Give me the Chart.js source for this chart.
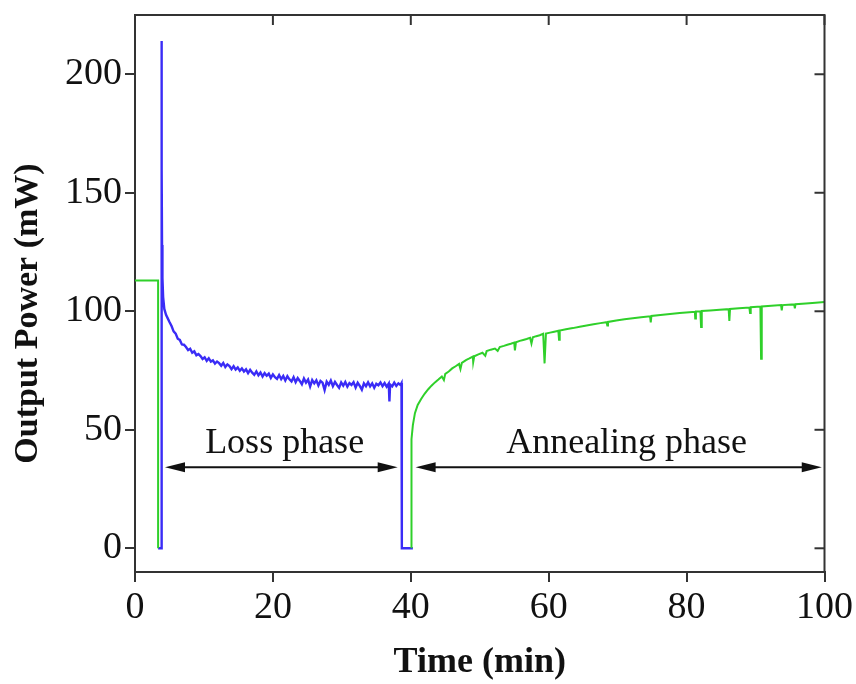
<!DOCTYPE html>
<html>
<head>
<meta charset="utf-8">
<script src="https://cdn.jsdelivr.net/npm/chart.js@4/dist/chart.umd.min.js"></script>
<style>
  html, body { margin: 0; padding: 0; background: #fff; }
  #wrap { width: 856px; height: 684px; }
</style>
</head>
<body>
<div id="wrap"><canvas id="chart" width="856" height="684"></canvas></div>
<script>
// === DATA (time in min, power in mW) ===

// green trace before the loss phase
const greenBefore = [[0, 113], [3.35, 113], [3.35, 0]];

// blue trace: loss phase
const blueLoss = [
    [3.35, 0], [3.85, 0], [3.85, 214], [3.88, 160], [3.92, 128], [3.98, 114], [4.08, 106],
    [4.25, 101], [4.5, 98.5], [4.75, 97], [5.0, 95.5], [5.3, 93.8], [5.6, 91.5], [5.9, 90.6],
    [6.2, 88.4], [6.5, 87.9], [6.8, 86.0], [7.1, 85.9], [7.4, 84.9], [7.7, 83.6], [8.0, 84.2],
    [8.3, 82.5], [8.6, 83.1], [8.9, 81.4], [9.2, 82.0], [9.5, 81.1], [9.8, 79.9], [10.1, 80.6],
    [10.4, 79.1], [10.7, 80.2], [11.0, 78.8], [11.3, 79.3], [11.6, 77.9], [11.9, 78.8], [12.2, 78.1],
    [12.5, 77.0], [12.8, 78.2], [13.1, 76.5], [13.4, 77.6], [13.7, 76.9], [14.0, 75.6], [14.3, 76.8],
    [14.6, 75.4], [14.9, 76.3], [15.2, 74.9], [15.5, 75.9], [15.8, 74.6], [16.1, 75.5], [16.4, 73.9],
    [16.7, 75.3], [17.0, 74.1], [17.3, 73.2], [17.6, 74.6], [17.9, 73.0], [18.2, 74.2], [18.5, 72.5],
    [18.8, 73.9], [19.1, 72.8], [19.4, 73.7], [19.7, 71.9], [20.0, 73.4], [20.3, 72.2], [20.6, 71.5],
    [20.9, 73.1], [21.2, 71.4], [21.5, 72.7], [21.8, 70.8], [22.1, 72.6], [22.4, 71.3], [22.7, 70.4],
    [23.0, 72.2], [23.3, 70.1], [23.6, 71.8], [23.9, 70.6], [24.2, 69.2], [24.5, 71.6], [24.8, 69.9],
    [25.1, 71.2], [25.4, 68.3], [25.7, 71.0], [26.0, 69.6], [26.3, 70.9], [26.6, 68.7], [26.9, 70.6],
    [27.2, 69.9], [27.5, 66.8], [27.8, 70.3], [28.1, 69.0], [28.4, 70.8], [28.7, 68.4], [29.0, 70.2],
    [29.3, 68.9], [29.6, 67.7], [29.9, 70.0], [30.2, 68.6], [30.5, 70.2], [30.8, 68.2], [31.1, 69.7],
    [31.4, 68.9], [31.7, 70.1], [32.0, 67.8], [32.3, 69.8], [32.6, 68.5], [32.9, 66.9], [33.2, 69.6],
    [33.5, 68.4], [33.8, 70.0], [34.1, 68.3], [34.4, 69.6], [34.7, 67.7], [35.0, 69.4], [35.3, 68.8],
    [35.6, 70.0], [35.9, 68.4], [36.2, 69.7], [36.5, 68.2], [36.8, 69.5], [36.9, 62.0], [37.0, 69.1],
    [37.3, 68.3], [37.6, 69.9], [37.9, 68.5], [38.2, 69.6], [38.5, 68.9], [38.65, 69.7], [38.7, 0],
    [40.3, 0]
];

// green trace: annealing phase (recovery with dropouts)
const greenAnneal = [
    [40.1, 0], [40.1, 46], [40.3, 52], [40.6, 57], [41.0, 60.5], [41.5, 63], [42.0, 65.2],
    [42.5, 67], [43.0, 68.6], [43.5, 70], [44.0, 71.2], [44.5, 72.5], [44.8, 71.0], [45.0, 73.6],
    [45.5, 74.6], [46.0, 75.9], [46.5, 76.8], [47.0, 77.8], [47.2, 75.6], [47.4, 78.2], [48.0, 79.4],
    [48.5, 80.1], [49.0, 80.9], [49.05, 78.5], [49.2, 81.0], [49.8, 81.8], [50.4, 82.5], [50.8, 81.2],
    [51.0, 83.2], [51.6, 83.8], [52.2, 84.3], [52.6, 83.3], [52.9, 84.9], [53.5, 85.4], [54.0, 85.9],
    [54.5, 86.3], [55.0, 86.8], [55.1, 83.5], [55.25, 86.9], [55.8, 87.5], [56.3, 87.9], [56.8, 88.3],
    [57.3, 88.8], [57.5, 86.4], [57.7, 89.0], [58.2, 89.5], [58.7, 89.9], [59.2, 90.5], [59.4, 78.0],
    [59.6, 90.6], [60.2, 91.0], [60.8, 91.4], [61.4, 91.8], [61.5, 88.0], [61.6, 91.9], [62.5, 92.4],
    [63.5, 92.9], [64.5, 93.5], [65.5, 94.0], [66.5, 94.5], [67.5, 95.0], [68.4, 95.4], [68.5, 94.0],
    [68.6, 95.5], [69.8, 96.1], [71.0, 96.6], [72.2, 97.1], [73.4, 97.5], [74.7, 97.9], [74.8, 95.3],
    [74.9, 98.0], [76.2, 98.4], [77.6, 98.9], [79.0, 99.3], [80.4, 99.6], [81.2, 99.8], [81.25, 97.0],
    [81.35, 99.9], [82.0, 100.0], [82.1, 93.4], [82.2, 100.1], [83.4, 100.3], [84.8, 100.6], [86.1, 100.9],
    [86.2, 95.9], [86.3, 101.0], [87.6, 101.3], [89.1, 101.6], [89.2, 99.3], [89.3, 101.7], [90.7, 102.0],
    [90.8, 80.0], [90.9, 102.0], [92.3, 102.3], [93.7, 102.6], [93.8, 100.4], [93.9, 102.6], [95.6, 102.9],
    [95.7, 101.2], [95.8, 103.0], [97.3, 103.3], [98.7, 103.6], [100, 103.9]
];

const xTicks = [0, 20, 40, 60, 80, 100];
const yTicks = [0, 50, 100, 150, 200];

// phase annotations: label, label centre (min), arrow start/end (min)
const phaseLabels = ['Loss phase', 'Annealing phase'];
const phaseLabelX = [21.7, 71.3];
const phaseArrowFrom = [4.35, 40.7];
const phaseArrowTo = [38.1, 99.6];
const phaseLabelY = 40.3;   // baseline, mW
const phaseArrowY = 34.2;   // mW

const BLUE = '#3a2cf6';
const GREEN = '#2fd02a';
const AXIS = '#333';
const SERIF = '"Liberation Serif", "Times New Roman", serif';

const toXY = pts => pts.map(([x, y]) => ({ x, y }));

// frame on top/right with inward ticks
const framePlugin = {
    id: 'frame',
    afterDraw(chart) {
        const { ctx, chartArea: a, scales } = chart;
        ctx.save();
        ctx.strokeStyle = AXIS;
        ctx.lineWidth = 2;
        ctx.beginPath();
        ctx.moveTo(a.left, a.top);
        ctx.lineTo(a.right, a.top);
        ctx.lineTo(a.right, a.bottom);
        ctx.stroke();
        yTicks.forEach(v => {
            const py = scales.y.getPixelForValue(v);
            ctx.beginPath();
            ctx.moveTo(a.right, py);
            ctx.lineTo(a.right - 10, py);
            ctx.stroke();
        });
        xTicks.forEach(v => {
            const px = scales.x.getPixelForValue(v);
            ctx.beginPath();
            ctx.moveTo(px, a.top);
            ctx.lineTo(px, a.top + 10);
            ctx.stroke();
        });

        // y title, drawn by hand so it can sit a bit below centre like the original
        ctx.fillStyle = '#111';
        ctx.font = 'bold 34px ' + SERIF;
        ctx.textAlign = 'center';
        ctx.textBaseline = 'middle';
        ctx.translate(28, (a.top + a.bottom) / 2 + 20);
        ctx.rotate(-Math.PI / 2);
        ctx.fillText('Output Power (mW)', 0, 0);
        ctx.restore();
    }
};

function drawHead(ctx, x, y, dir) {
    ctx.beginPath();
    ctx.moveTo(x, y);
    ctx.lineTo(x - dir * 20, y - 5);
    ctx.lineTo(x - dir * 20, y + 5);
    ctx.closePath();
    ctx.fill();
}

const phasePlugin = {
    id: 'phases',
    afterDatasetsDraw(chart) {
        const { ctx, scales: { x, y } } = chart;
        ctx.save();
        ctx.fillStyle = '#111';
        ctx.strokeStyle = '#111';
        ctx.lineWidth = 2;
        ctx.font = '36px ' + SERIF;
        ctx.textAlign = 'center';
        ctx.textBaseline = 'alphabetic';
        phaseLabels.forEach((label, i) => {
            ctx.fillText(label, x.getPixelForValue(phaseLabelX[i]), y.getPixelForValue(phaseLabelY));
            const x1 = x.getPixelForValue(phaseArrowFrom[i]);
            const x2 = x.getPixelForValue(phaseArrowTo[i]);
            const py = y.getPixelForValue(phaseArrowY);
            ctx.beginPath();
            ctx.moveTo(x1 + 10, py);
            ctx.lineTo(x2 - 10, py);
            ctx.stroke();
            drawHead(ctx, x1, py, -1);
            drawHead(ctx, x2, py, 1);
        });
        ctx.restore();
    }
};

const lineStyle = (color, width) => ({
    borderColor: color,
    backgroundColor: color,
    borderWidth: width,
    pointRadius: 0,
    tension: 0,
    fill: false
});

new Chart(document.getElementById('chart').getContext('2d'), {
    type: 'line',
    data: {
        datasets: [
            { data: toXY(greenBefore), ...lineStyle(GREEN, 2) },
            { data: toXY(greenAnneal), ...lineStyle(GREEN, 2) },
            { data: toXY(blueLoss), ...lineStyle(BLUE, 2.4) }
        ]
    },
    options: {
        responsive: false,
        animation: false,
        devicePixelRatio: 1,
        layout: { padding: { top: 15, right: 30, left: 0, bottom: 0 } },
        plugins: { legend: { display: false }, tooltip: { enabled: false } },
        scales: {
            x: {
                type: 'linear',
                min: 0,
                max: 100,
                afterBuildTicks: axis => { axis.ticks = xTicks.map(v => ({ value: v })); },
                afterFit: axis => { axis.height = 112; },
                grid: { drawOnChartArea: false, tickLength: 10, color: AXIS, lineWidth: 2 },
                border: { display: true, color: AXIS, width: 2 },
                ticks: { color: '#111', font: { family: SERIF, size: 38 }, padding: 3, maxRotation: 0 },
                title: {
                    display: true,
                    text: 'Time (min)',
                    color: '#111',
                    font: { family: SERIF, size: 36, weight: 'bold' },
                    padding: { top: 0, bottom: 0 }
                }
            },
            y: {
                type: 'linear',
                min: -10,
                max: 225,
                afterBuildTicks: axis => { axis.ticks = yTicks.map(v => ({ value: v })); },
                afterFit: axis => {
                    axis.width = 135;
                    // labels sit well inside the range, so no extra room is needed above/below
                    axis.paddingTop = 0;
                    axis.paddingBottom = 0;
                },
                grid: { drawOnChartArea: false, tickLength: 10, color: AXIS, lineWidth: 2 },
                border: { display: true, color: AXIS, width: 2 },
                ticks: { color: '#111', font: { family: SERIF, size: 38 }, padding: 3 }
            }
        }
    },
    plugins: [phasePlugin, framePlugin]
});
</script>
</body>
</html>
